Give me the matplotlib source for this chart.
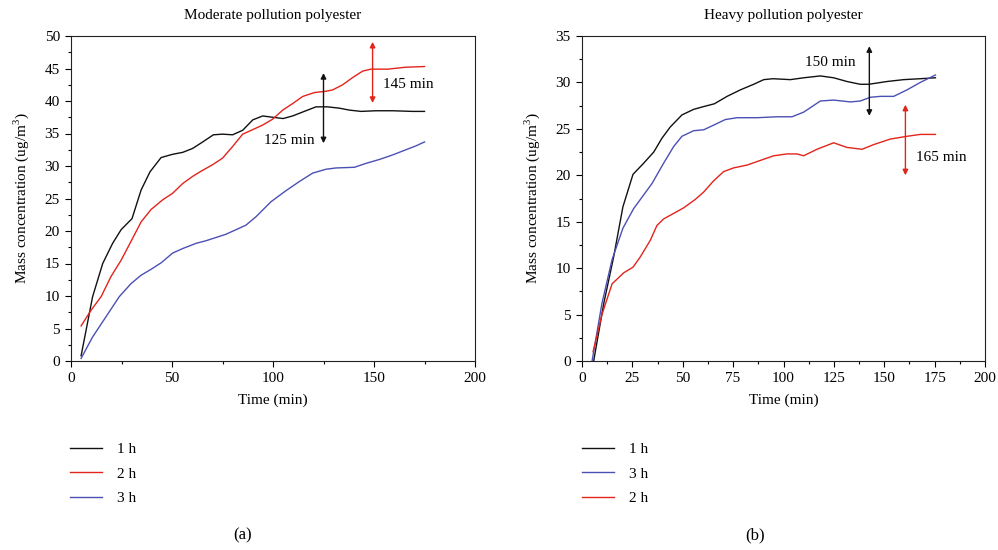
import matplotlib
matplotlib.use("Agg")
import matplotlib.pyplot as plt

# ---- data: Moderate pollution polyester (a) ----
a_t_1h = [5, 10.7, 15.7, 20.6, 24.8, 30.2, 34.7, 39.1, 44.6, 50.3, 55.3, 60.2, 65.2, 70.5, 75, 80, 85, 90, 94.9, 99.8, 105, 109.7, 116.3, 121.3, 127, 132.8, 137.8, 143.6, 151, 159.2, 169, 175]
a_c_1h = [0.8, 9.9, 15.0, 18.1, 20.2, 21.9, 26.3, 29.1, 31.3, 31.8, 32.1, 32.7, 33.7, 34.8, 34.9, 34.8, 35.5, 37.1, 37.7, 37.5, 37.3, 37.7, 38.5, 39.1, 39.1, 38.9, 38.6, 38.4, 38.5, 38.5, 38.4, 38.4]
a_t_2h = [5, 9.9, 14.9, 19.8, 24.8, 29.7, 34.7, 39.6, 45.4, 50.3, 55.3, 60.2, 64.4, 70.1, 75, 80, 85, 90, 94.9, 99.8, 104.8, 109.7, 114.7, 120.5, 126.2, 129.5, 134.5, 139.4, 144.4, 148.5, 156.8, 165.8, 175]
a_c_2h = [5.4, 7.8, 9.9, 13.0, 15.5, 18.4, 21.4, 23.3, 24.8, 25.8, 27.3, 28.4, 29.2, 30.2, 31.2, 33.0, 34.9, 35.6, 36.3, 37.2, 38.6, 39.6, 40.7, 41.3, 41.5, 41.7, 42.5, 43.6, 44.6, 44.9, 44.9, 45.2, 45.3]
a_t_3h = [5, 10.7, 17.3, 23.9, 29.7, 34.7, 39.6, 44.6, 50.3, 55.3, 61.9, 66.8, 71.8, 76.7, 81.7, 86.6, 91.6, 99, 106.4, 113, 119.6, 126.2, 131.2, 140.3, 146, 152.6, 159.2, 165.8, 170.8, 175]
a_c_3h = [0.4, 3.7, 6.8, 9.9, 11.9, 13.2, 14.1, 15.1, 16.6, 17.3, 18.1, 18.5, 19.0, 19.5, 20.2, 20.9, 22.2, 24.5, 26.2, 27.6, 28.9, 29.5, 29.7, 29.8, 30.4, 31.0, 31.7, 32.5, 33.1, 33.7]

# ---- data: Heavy pollution polyester (b) ----
b_t_1h = [5.8, 10.8, 15.7, 20.3, 25.3, 30.6, 35.6, 39.7, 43.8, 49.6, 55.4, 60.4, 65.7, 72, 78.6, 85.2, 90.2, 94.8, 103.4, 110, 118.3, 124.9, 131.5, 138.1, 142.3, 151.4, 159.6, 167.9, 175.4]
b_c_1h = [0.0, 6.2, 11.2, 16.6, 20.1, 21.3, 22.5, 24.0, 25.2, 26.5, 27.1, 27.4, 27.7, 28.5, 29.2, 29.8, 30.3, 30.4, 30.3, 30.5, 30.7, 30.5, 30.1, 29.8, 29.8, 30.1, 30.3, 30.4, 30.5]
b_t_3h = [5, 9.9, 14.9, 20.3, 25.6, 34.7, 40.5, 45.5, 49.6, 55.4, 60.4, 65.3, 71.1, 76.9, 86.8, 96.8, 104.2, 110, 118.3, 124.9, 133.2, 138.1, 143.1, 148.1, 154.7, 161.3, 167.9, 175.4]
b_c_3h = [0.0, 6.2, 10.9, 14.3, 16.4, 19.1, 21.3, 23.1, 24.2, 24.8, 24.9, 25.4, 26.0, 26.2, 26.2, 26.3, 26.3, 26.8, 28.0, 28.1, 27.9, 28.0, 28.4, 28.5, 28.5, 29.2, 30.0, 30.8]
b_t_2h = [5.5, 9.9, 14.9, 20.7, 25.3, 28.9, 33.9, 37.2, 40.5, 44.7, 50.5, 56.2, 60.4, 65.3, 70.3, 75.3, 81.9, 88.5, 95.1, 101.7, 106.7, 110, 116.6, 124.9, 131.5, 139, 144.7, 153, 161.3, 167.9, 175.4]
b_c_2h = [1.0, 5.0, 8.3, 9.5, 10.1, 11.2, 13.0, 14.6, 15.3, 15.8, 16.5, 17.4, 18.2, 19.4, 20.4, 20.8, 21.1, 21.6, 22.1, 22.3, 22.3, 22.1, 22.8, 23.5, 23.0, 22.8, 23.3, 23.9, 24.2, 24.4, 24.4]

titles = ["Moderate pollution polyester", "Heavy pollution polyester"]
captions = ["(a)", "(b)"]
xlabel = "Time (min)"
ylabel = "Mass concentration (ug/m$^3$)"

BLACK = "#111111"
RED = "#e3241b"
BLUE = "#4b50b4"

plt.rcParams['font.family'] = ['Liberation Serif', 'DejaVu Serif']
plt.rcParams['mathtext.fontset'] = 'custom'
plt.rcParams['mathtext.rm'] = 'Liberation Serif'

fig = plt.figure(figsize=(9.98, 5.5), dpi=100)
axA = fig.add_axes([71/998, 1-361/550, 404/998, 325/550])
axB = fig.add_axes([582/998, 1-361/550, 403/998, 325/550])

FS = 11

def style(ax, ymax, ymajor, xmajor, title):
    ax.set_xlim(0, 200)
    ax.set_ylim(0, ymax)
    ax.set_xticks(range(0, 201, xmajor))
    ax.set_xticks([v / 2 for v in range(xmajor, 400, xmajor * 2)], minor=True)
    ax.set_yticks(range(0, ymax + 1, ymajor))
    ax.set_yticks([v / 2 for v in range(ymajor, ymax * 2, ymajor * 2)], minor=True)
    ax.tick_params(which='major', direction='out', length=4, width=0.8, labelsize=FS, pad=4)
    ax.tick_params(which='minor', direction='out', length=2.5, width=0.8)
    for s in ax.spines.values():
        s.set_linewidth(0.8)
        s.set_color('#222222')
    ax.set_xlabel(xlabel, fontsize=FS, labelpad=6)
    ax.set_ylabel(ylabel, fontsize=FS, labelpad=10)
    ax.set_title(title, fontsize=FS, pad=12)

# (a)
la1, = axA.plot(a_t_1h, a_c_1h, color=BLACK, lw=1.0, label="1 h")
la2, = axA.plot(a_t_2h, a_c_2h, color=RED, lw=1.0, label="2 h")
la3, = axA.plot(a_t_3h, a_c_3h, color=BLUE, lw=1.0, label="3 h")
style(axA, 50, 5, 50, titles[0])
axA.annotate("", xy=(125, 44.3), xytext=(125, 33.5),
             arrowprops=dict(arrowstyle='<|-|>', color=BLACK, lw=1.0, mutation_scale=8, shrinkA=0, shrinkB=0))
axA.text(120.5, 34.0, "125 min", ha='right', va='center', fontsize=FS)
axA.annotate("", xy=(149.3, 49.1), xytext=(149.3, 39.7),
             arrowprops=dict(arrowstyle='<|-|>', color=RED, lw=1.0, mutation_scale=8, shrinkA=0, shrinkB=0))
axA.text(154.3, 42.5, "145 min", ha='left', va='center', fontsize=FS)

# (b)
lb1, = axB.plot(b_t_1h, b_c_1h, color=BLACK, lw=1.0, label="1 h")
lb3, = axB.plot(b_t_3h, b_c_3h, color=BLUE, lw=1.0, label="3 h")
lb2, = axB.plot(b_t_2h, b_c_2h, color=RED, lw=1.0, label="2 h")
style(axB, 35, 5, 25, titles[1])
axB.annotate("", xy=(142.6, 33.9), xytext=(142.6, 26.4),
             arrowprops=dict(arrowstyle='<|-|>', color=BLACK, lw=1.0, mutation_scale=8, shrinkA=0, shrinkB=0))
axB.text(136, 32.2, "150 min", ha='right', va='center', fontsize=FS)
axB.annotate("", xy=(160.5, 27.6), xytext=(160.5, 20.0),
             arrowprops=dict(arrowstyle='<|-|>', color=RED, lw=1.0, mutation_scale=8, shrinkA=0, shrinkB=0))
axB.text(166, 21.9, "165 min", ha='left', va='center', fontsize=FS)

# legends below axes
fig.legend(handles=[la1, la2, la3], loc='upper left', bbox_to_anchor=(56/998, 1-429/550),
           frameon=False, fontsize=FS, handlelength=2.1, handletextpad=1.0, labelspacing=0.7)
fig.legend(handles=[lb1, lb3, lb2], loc='upper left', bbox_to_anchor=(568/998, 1-429/550),
           frameon=False, fontsize=FS, handlelength=2.1, handletextpad=1.0, labelspacing=0.7)

fig.text(243/998, 1-535/550, captions[0], ha='center', va='center', fontsize=12)
fig.text(755/998, 1-535/550, captions[1], ha='center', va='center', fontsize=12)

fig.savefig("out.png", dpi=100)
